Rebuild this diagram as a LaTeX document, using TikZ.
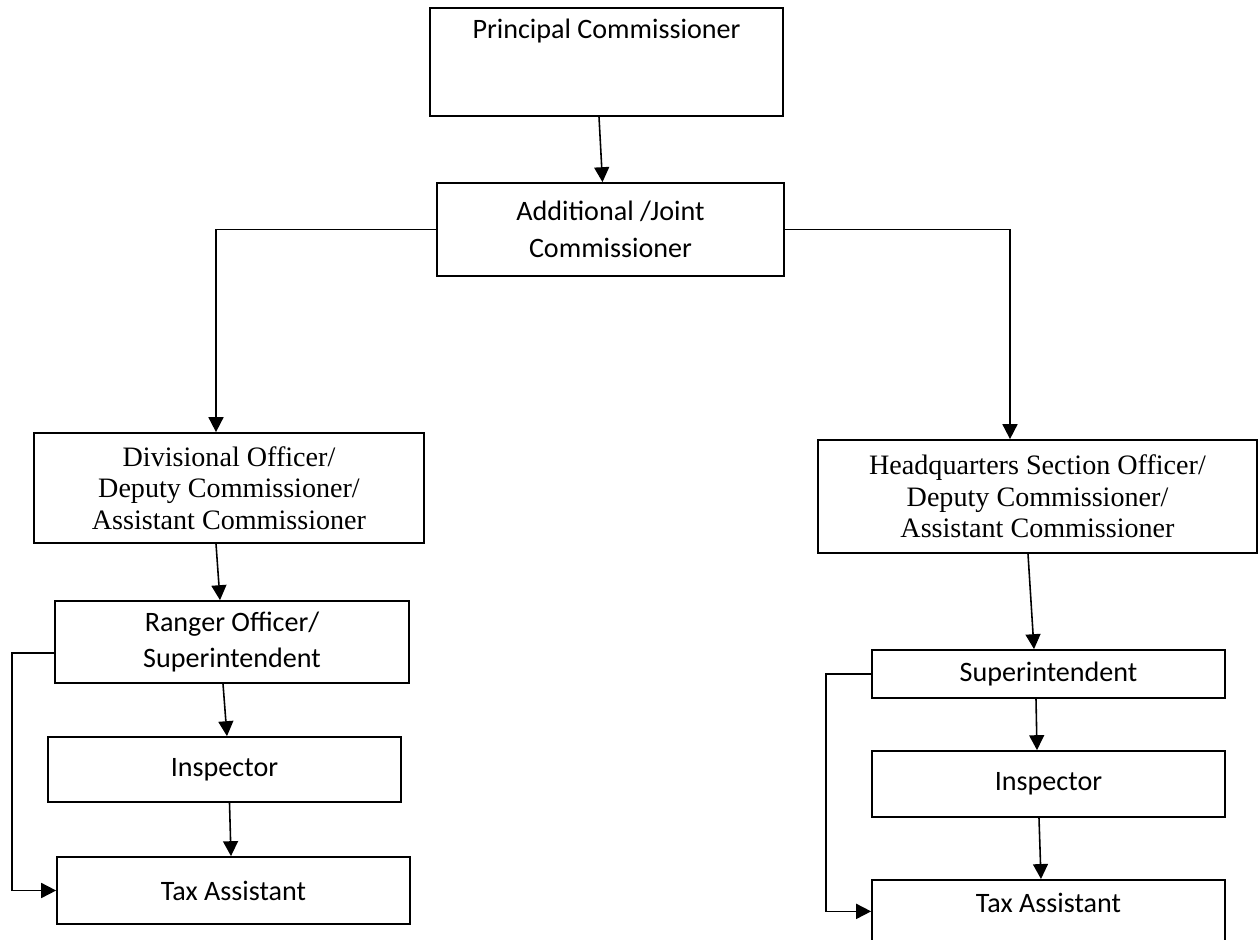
\documentclass[tikz,border=0pt]{standalone}
\usepackage{fontspec}
\setmainfont{Carlito}
\newfontfamily\timesfont{Liberation Serif}
\usetikzlibrary{arrows.meta}

\tikzset{
  box/.style={draw, line width=1pt, inner sep=0pt, align=center},
  sans/.style={font=\fontsize{16}{21}\selectfont},
  serif/.style={font=\fontsize{16}{18}\selectfont\timesfont},
  link/.style={line width=0.9pt, -{Triangle[width=8.5pt,length=8.5pt]}},
  wire/.style={line width=1pt}
}

\begin{document}
\begin{tikzpicture}[x=0.02cm, y=-0.02cm]
  \useasboundingbox[fill=white] (0,0) rectangle (1259,940);

	% top
	\node[box, sans, anchor=north, minimum width=7.06cm, text height=0.62cm, text depth=1.54cm] (pc) at (606.5,7) {Principal Commissioner};
	\node[box, sans, minimum width=6.94cm, minimum height=1.86cm] (ajc) at (610.5,229.5) {Additional /Joint\\Commissioner};

	% left branch
	\node[box, serif, minimum width=7.8cm, minimum height=2.2cm] (div) at (229,488) {Divisional Officer/\\Deputy Commissioner/\\Assistant Commissioner};
	\node[box, sans, minimum width=7.08cm, minimum height=1.64cm] (ro) at (232,642) {Ranger Officer/\\Superintendent};
	\node[box, sans, minimum width=7.06cm, minimum height=1.3cm] (inl) at (224.5,769.5) {Inspector};
	\node[box, sans, minimum width=7.06cm, minimum height=1.34cm] (tal) at (233.5,890.5) {Tax Assistant};

	% right branch
	\node[box, serif, minimum width=8.78cm, minimum height=2.26cm] (hq) at (1037.5,496.5) {Headquarters Section Officer/\\Deputy Commissioner/\\Assistant Commissioner};
	\node[box, sans, minimum width=7.06cm, minimum height=0.96cm] (sup) at (1048.5,674) {Superintendent};
	\node[box, sans, minimum width=7.06cm, minimum height=1.32cm] (inr) at (1048.5,784) {Inspector};
	\node[box, sans, anchor=north, minimum width=7.06cm, text height=0.66cm, text depth=1.0cm] (tar) at (1048.5,879) {Tax Assistant};

	\draw[link] ([xshift=-0.15cm]pc.south) -- ([xshift=-0.16cm]ajc.north);
	\draw[link, wire] (ajc.west) -| ([xshift=-0.26cm]div.north);
	\draw[link, wire] (ajc.east) -| ([xshift=-0.55cm]hq.north);

	\draw[link] ([xshift=-0.26cm]div.south) -- ([xshift=-0.24cm]ro.north);
	\draw[link] ([xshift=-0.18cm]ro.south) -- ([xshift=0.05cm]inl.north);
	\draw[link] ([xshift=0.1cm]inl.south) -- ([xshift=-0.05cm]tal.north);
	\draw[link, wire] ([yshift=-0.22cm]ro.west) -- ++(-0.84cm,0) |- (tal.west);

	\draw[link] ([xshift=-0.19cm]hq.south) -- ([xshift=-0.29cm]sup.north);
	\draw[link] ([xshift=-0.25cm]sup.south) -- ([xshift=-0.23cm]inr.north);
	\draw[link] ([xshift=-0.19cm]inr.south) -- ([xshift=-0.15cm]tar.north);
	\draw[link, wire] (sup.west) -- ++(-0.9cm,0) |- ([yshift=0.2cm]tar.west);
\end{tikzpicture}
\end{document}
